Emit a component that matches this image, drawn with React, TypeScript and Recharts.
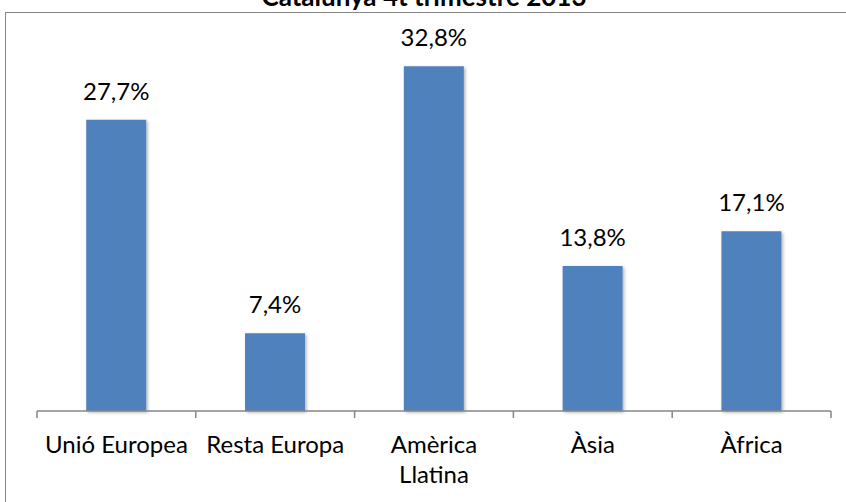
import { BarChart, Bar, XAxis, YAxis, LabelList } from 'recharts';

const title = 'Catalunya 4t trimestre 2013';
const categories = ['Unió Europea', 'Resta Europa', 'Amèrica Llatina', 'Àsia', 'Àfrica'];
const tickLines = [['Unió Europea'], ['Resta Europa'], ['Amèrica', 'Llatina'], ['Àsia'], ['Àfrica']];
const shares = [27.7, 7.4, 32.8, 13.8, 17.1];

const data = categories.map((name, i) => ({ name, value: shares[i], lines: tickLines[i] }));

const W = 846;
const H = 502;
const AXIS_H = 30;
const margin = { top: 43, right: 15, bottom: 91 - AXIS_H, left: 37 };
const band = (W - margin.left - margin.right) / categories.length;
const FONT = 'Lato, "Noto Sans", sans-serif';
const AXIS = '#868686';

function CategoryTick(props: any) {
  const { x, y, payload, index } = props;
  const lines = data[index] ? data[index].lines : [payload.value];
  const last = index === categories.length - 1;
  return (
    <g>
      <line x1={x - band / 2} x2={x - band / 2} y1={y} y2={y + 7} stroke={AXIS} strokeWidth={1.5} />
      {last && <line x1={x + band / 2} x2={x + band / 2} y1={y} y2={y + 7} stroke={AXIS} strokeWidth={1.5} />}
      <text x={x} y={y + 42} textAnchor="middle" fontSize={24} fill="#000" fontFamily={FONT}>
        {lines.map((l: string, i: number) => (
          <tspan key={i} x={x} dy={i === 0 ? 0 : 30}>{l}</tspan>
        ))}
      </text>
    </g>
  );
}

export default function App() {
  return (
    <div style={{ position: 'absolute', left: 0, top: 0, width: W, height: H, overflow: 'hidden', background: '#fff' }}>
      <div style={{ position: 'absolute', left: 5, top: 12, width: 1000, height: 1000, border: `1.5px solid ${AXIS}` }} />
      <svg width={W} height={20} style={{ position: 'absolute', left: 0, top: 0 }}>
        <defs>
          <filter id="barShadow" x="-20%" y="-20%" width="140%" height="140%">
            <feDropShadow dx="1.5" dy="1.5" stdDeviation="1.5" floodColor="#000" floodOpacity="0.3" />
          </filter>
        </defs>
        <text x={W / 2 + 1} y={6} textAnchor="middle" fontSize={26} fontWeight="bold" fontFamily={FONT} fill="#000">
          {title}
        </text>
      </svg>
      <div style={{ position: 'absolute', left: 0, top: 0 }}>
        <BarChart width={W} height={H} data={data} margin={margin} barCategoryGap="31%">
          <XAxis
            dataKey="name"
            height={AXIS_H}
            tickLine={false}
            tickSize={0}
            tickMargin={0}
            axisLine={{ stroke: AXIS, strokeWidth: 1.5 }}
            tick={<CategoryTick />}
            interval={0}
          />
          <YAxis hide domain={[0, 35]} />
          <Bar dataKey="value" fill="#4F81BD" isAnimationActive={false} style={{ filter: 'url(#barShadow)' }}>
            <LabelList
              dataKey="value"
              position="top"
              offset={20}
              formatter={(v: any) => `${String(v).replace('.', ',')}%`}
              style={{ fontSize: 24, fontFamily: FONT, fill: '#000' }}
            />
          </Bar>
        </BarChart>
      </div>
    </div>
  );
}
